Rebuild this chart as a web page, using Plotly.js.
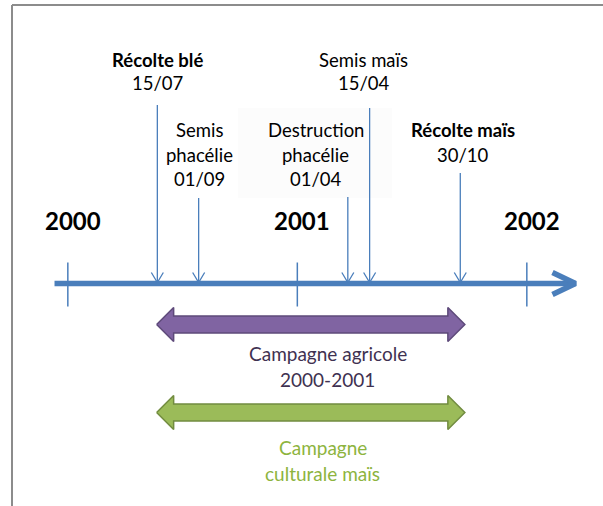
<!DOCTYPE html>
<html><head><meta charset="utf-8">
<script src="https://cdn.plot.ly/plotly-3.0.1.min.js"></script>
<style>html,body{margin:0;padding:0;background:#fff}#chart{width:603px;height:506px}</style>
</head><body><div id="chart"></div>
<script>
// ---- data (time in years, as drawn on the timeline) ----
const years = [2000, 2001, 2002];
const yearLabels = ["2000", "2001", "2002"];
const eventNames = ["Récolte blé", "Semis\nphacélie", "Destruction\nphacélie", "Semis maïs", "Récolte maïs"];
const eventDates = ["15/07", "01/09", "01/04", "15/04", "30/10"];
const eventTimes = [2000.39, 2000.57, 2001.22, 2001.315, 2001.71];
const campaignNames = ["Campagne agricole\n2000-2001", "Campagne\nculturale maïs"];
const campaignStart = [2000.387, 2000.387];
const campaignEnd = [2001.73, 2001.73];
const timelineSpan = [1999.942, 2002.212];

// ---- styles / layout ----
const W = 603, H = 506;
const PXY = 229.5;                 // pixels per year
const X0 = 2000 - 67.83 / PXY;     // year at left edge
const X1 = X0 + W / PXY;
const px = p => p / PXY;           // pixel length -> years
const BLUE = "#4A7EBB";
const FONT = "Lato, 'Open Sans', sans-serif";
const eventStyle = [
  {top: 105, labelY: 60,  dx: 0,   bold: true},
  {top: 198, labelY: 130, dx: 1,   bold: false},
  {top: 197, labelY: 130, dx: -32, bold: false},
  {top: 108, labelY: 60,  dx: -6,  bold: false},
  {top: 173, labelY: 130, dx: 3,   bold: true}
];
const campStyle = [
  {y: 324.5, fill: "#8064A2", line: "#5E4A7A", text: "#3F3151", textY: 353, dx: 17},
  {y: 412.5, fill: "#9BBB59", line: "#728C40", text: "#8DB43E", textY: 447, dx: 12}
];
const AXY = 283.5;

const traces = [];
const annotations = [];
const shapes = [];

// frame
shapes.push({type: "line", xref: "paper", yref: "y", x0: 12 / W, x1: 1, y0: 5, y1: 5, line: {color: "#8C8C8C", width: 2}});
shapes.push({type: "line", xref: "paper", yref: "y", x0: 12 / W, x1: 12 / W, y0: 5, y1: H, line: {color: "#8C8C8C", width: 2}});
// faint box behind "Destruction phacélie"
shapes.push({type: "rect", xref: "paper", yref: "y", x0: 238 / W, x1: 392 / W, y0: 108, y1: 198, fillcolor: "#FCFCFC", line: {width: 0}, layer: "below"});

// main timeline
traces.push({x: [timelineSpan[0], timelineSpan[1]], y: [AXY, AXY], mode: "lines", line: {color: BLUE, width: 5.5}});
traces.push({x: [timelineSpan[1] - px(23), timelineSpan[1], timelineSpan[1] - px(23)], y: [AXY - 11, AXY, AXY + 11],
  mode: "lines", line: {color: BLUE, width: 5.5}});

// year ticks + labels
years.forEach((yv, i) => {
  traces.push({x: [yv, yv], y: [262.5, 306.5], mode: "lines", line: {color: BLUE, width: 1.5}});
  annotations.push({x: yv, y: 220, xref: "x", yref: "y", text: "<b>" + yearLabels[i] + "</b>", showarrow: false,
    xanchor: "center", yanchor: "middle", xshift: 5, font: {family: FONT, size: 24, color: "#000"}});
});

// events
eventTimes.forEach((t, i) => {
  const s = eventStyle[i];
  traces.push({x: [t, t], y: [s.top, AXY - 1], mode: "lines", line: {color: BLUE, width: 1.3}});
  traces.push({x: [t - px(6), t, t + px(6)], y: [AXY - 11, AXY - 1, AXY - 11], mode: "lines", line: {color: BLUE, width: 1.3}});
  const lines = eventNames[i].split("\n").concat([eventDates[i]]);
  lines.forEach((ln, k) => {
    const isName = k < lines.length - 1;
    annotations.push({x: t, y: s.labelY + k * (s.labelY < 100 ? 23 : 24.5), xref: "x", yref: "y",
      text: (isName && s.bold) ? "<b>" + ln + "</b>" : ln, showarrow: false, xanchor: "center", yanchor: "middle",
      xshift: s.dx, font: {family: FONT, size: 18.5, color: "#000"}});
  });
});

// campaigns (double block arrows)
campaignStart.forEach((s0, i) => {
  const e0 = campaignEnd[i], c = campStyle[i];
  const h = px(17), S = 8.5, Hh = 17, y = c.y;
  traces.push({
    x: [s0, s0 + h, s0 + h, e0 - h, e0 - h, e0, e0 - h, e0 - h, s0 + h, s0 + h, s0],
    y: [y, y - Hh, y - S, y - S, y - Hh, y, y + Hh, y + S, y + S, y + Hh, y],
    mode: "lines", fill: "toself", fillcolor: c.fill, line: {color: c.line, width: 1.5}
  });
  campaignNames[i].split("\n").forEach((ln, k) => {
    annotations.push({x: (s0 + e0) / 2, y: c.textY + k * 26, xref: "x", yref: "y", text: ln, showarrow: false,
      xanchor: "center", yanchor: "middle", xshift: c.dx, font: {family: FONT, size: 19, color: c.text}});
  });
});

const layout = {
  width: W, height: H, margin: {l: 0, r: 0, t: 0, b: 0}, showlegend: false,
  paper_bgcolor: "#fff", plot_bgcolor: "#fff",
  xaxis: {range: [X0, X1], visible: false, fixedrange: true},
  yaxis: {range: [H, 0], visible: false, fixedrange: true},
  shapes: shapes, annotations: annotations, hovermode: false
};
Plotly.newPlot("chart", traces, layout, {staticPlot: true, displayModeBar: false});
</script></body></html>
